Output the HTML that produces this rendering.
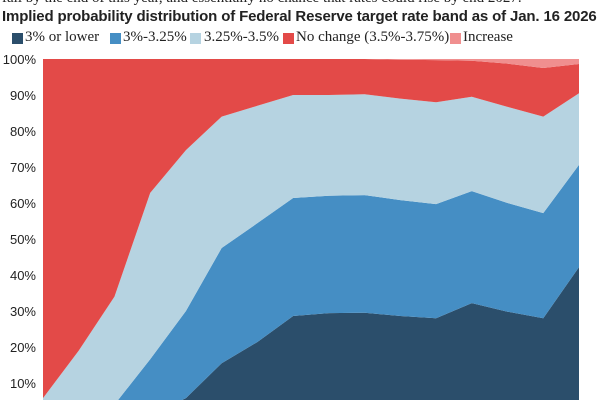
<!DOCTYPE html>
<html><head><meta charset="utf-8"><style>
body{margin:0;width:600px;height:400px;overflow:hidden;background:#fff;font-family:"Liberation Sans",sans-serif;position:relative}
.sub{position:absolute;left:2px;top:-10px;font-size:15px;color:#222;white-space:nowrap;font-family:"Liberation Serif",serif}
.title{position:absolute;left:2px;top:8px;font-size:15px;font-weight:bold;color:#222;white-space:nowrap;letter-spacing:-0.15px}
.leg{position:absolute;top:29px;font-family:"Liberation Serif",serif;font-size:15px;color:#222;white-space:nowrap}
.sw{position:absolute;top:4px;width:11px;height:11px}
.lt{position:absolute;top:0}
</style></head><body>
<div class="sub">fall by the end of this year, and essentially no chance that rates could rise by end 2027.</div>
<div class="title">Implied probability distribution of Federal Reserve target rate band as of Jan. 16 2026</div>
<div class="leg" style="left:0"><span class="sw" style="left:12px;background:#2b4e6b"></span><span class="lt" style="left:25px">3% or lower</span></div>
<div class="leg" style="left:0"><span class="sw" style="left:110px;background:#458ec4"></span><span class="lt" style="left:123px">3%-3.25%</span></div>
<div class="leg" style="left:0"><span class="sw" style="left:190px;background:#b6d3e1"></span><span class="lt" style="left:204px">3.25%-3.5%</span></div>
<div class="leg" style="left:0"><span class="sw" style="left:283px;background:#e34a48"></span><span class="lt" style="left:296px">No change (3.5%-3.75%)</span></div>
<div class="leg" style="left:0"><span class="sw" style="left:450px;background:#f08f8f"></span><span class="lt" style="left:463px">Increase</span></div>
<svg id="chart" width="600" height="400" style="position:absolute;left:0;top:0"></svg>
<script>
const categories=[0,1,2,3,4,5,6,7,8,9,10,11,12,13,14,15];
const low=[0,0,0,1,5.8,15.5,21.4,28.6,29.4,29.5,28.6,28,32.2,29.8,28,42.2];
const mid=[0,0,4,15.6,24.2,32,33,32.8,32.6,32.7,32.2,31.7,31.1,30.2,29.2,28.4];
const light=[5.8,19,30,46.2,44.7,36.5,32.6,28.6,28,28,28.2,28.3,26.2,26.7,26.8,19.9];
const nochange=[94.2,81,66,37.2,25.3,16,13,10,10,9.8,10.8,11.7,10,12,13.5,8.1];
const increase=[0,0,0,0,0,0,0,0,0,0,0.2,0.3,0.5,1.3,2.5,1.4];
const yTicks=[10,20,30,40,50,60,70,80,90,100];
const series=[low,mid,light,nochange,increase];
const colors=["#2b4e6b","#458ec4","#b6d3e1","#e34a48","#f08f8f"];
const names=["area-3-or-lower","area-3-3.25","area-3.25-3.5","area-no-change","area-increase"];
const x0=43,x1=579;
const xs=i=>x0+(x1-x0)*i/(categories.length-1);
const ys=v=>419-3.6*v;
const svg=document.getElementById('chart');
const NS="http://www.w3.org/2000/svg";
let base=categories.map(()=>0);
series.forEach((s,k)=>{
  const top=base.map((b,i)=>b+s[i]);
  let pts=categories.map((c,i)=>xs(i)+','+ys(top[i]));
  for(let i=categories.length-1;i>=0;i--)pts.push(xs(i)+','+ys(base[i]));
  const p=document.createElementNS(NS,'polygon');
  p.setAttribute('points',pts.join(' '));
  p.setAttribute('fill',colors[k]);
  
  
  svg.appendChild(p);
  base=top;
});
yTicks.forEach(t=>{
  const tx=document.createElementNS(NS,'text');
  tx.setAttribute('x',36);tx.setAttribute('y',ys(t)+5);
  tx.setAttribute('text-anchor','end');tx.setAttribute('font-size','13');
  tx.setAttribute('fill','#222');tx.setAttribute('font-family','Liberation Sans, sans-serif');
  tx.textContent=t+'%';
  
  
  svg.appendChild(tx);
});
</script>
</body></html>
